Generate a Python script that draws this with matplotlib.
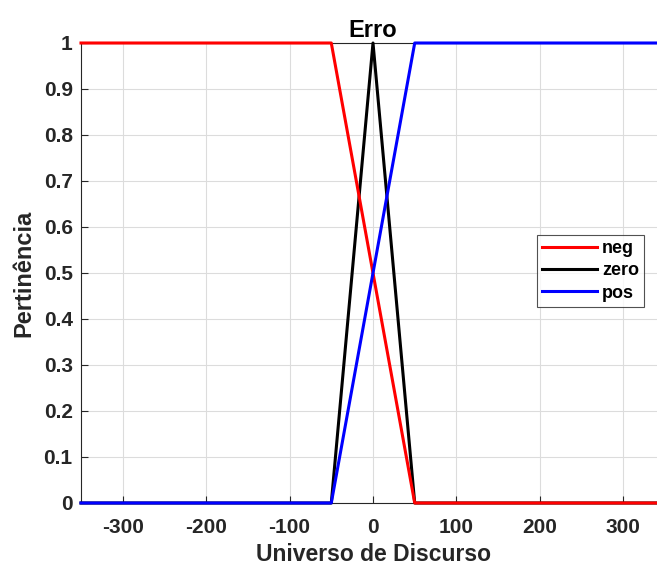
import matplotlib
matplotlib.use("Agg")
import matplotlib.pyplot as plt

plt.rcParams['font.family'] = ['Liberation Sans', 'DejaVu Sans']
plt.rcParams['font.weight'] = 'bold'

x_neg = [-350, -50, 50, 350]
y_neg = [1, 1, 0, 0]
x_zero = [-350, -50, 0, 50, 350]
y_zero = [0, 0, 1, 0, 0]
x_pos = [-350, -50, 50, 350]
y_pos = [0, 0, 1, 1]
xticks = [-300, -200, -100, 0, 100, 200, 300]
yticks = [0, 0.1, 0.2, 0.3, 0.4, 0.5, 0.6, 0.7, 0.8, 0.9, 1]

W, H = 657, 567
fig = plt.figure(figsize=(W/100, H/100), dpi=100)
left, right, top, bottom = 81, 665, 43, 503
ax = fig.add_axes([left/W, 1-bottom/H, (right-left)/W, (bottom-top)/H])

ax.plot(x_zero, y_zero, color='black', lw=2.2, label='zero', zorder=3, clip_on=False)
ax.plot(x_neg, y_neg, color='red', lw=2.2, label='neg', zorder=4, clip_on=False)
ax.plot(x_pos, y_pos, color='blue', lw=2.2, label='pos', zorder=4, clip_on=False)

ax.set_xlim(-350, 350)
ax.set_ylim(0, 1)
ax.set_xticks(xticks)
ax.set_xticklabels([str(v) for v in xticks])
ax.set_yticks(yticks)
ax.set_yticklabels(['0'] + [f'{v:g}' for v in yticks[1:-1]] + ['1'])
ax.grid(True, color='#dcdcdc', lw=0.8)
ax.set_axisbelow(True)
for s in ax.spines.values():
    s.set_color('#262626')
ax.tick_params(direction='in', length=5, colors='#262626', labelsize=15, width=0.8)
for lab in ax.get_xticklabels() + ax.get_yticklabels():
    lab.set_fontweight('bold')
    lab.set_color('#262626')
ax.tick_params(axis='x', pad=11)
ax.tick_params(axis='y', pad=6)

ax.set_title('Erro', fontsize=17, fontweight='bold', pad=4)
ax.set_xlabel('Universo de Discurso', fontsize=16.5, fontweight='bold', color='#262626', labelpad=4)
ax.set_ylabel('Pertinência', fontsize=17, fontweight='bold', color='#262626', labelpad=6)

h, l = ax.get_legend_handles_labels()
order = [1, 0, 2]
leg = ax.legend([h[i] for i in order], [l[i] for i in order],
                loc='upper left', bbox_to_anchor=((537-left)/(right-left), 1-(235-top)/(bottom-top)),
                fontsize=13, frameon=True, fancybox=False, handlelength=3.0,
                borderpad=0.3, labelspacing=0.28, handletextpad=0.3, borderaxespad=0)
leg.get_frame().set_edgecolor('#262626')
leg.get_frame().set_linewidth(0.8)
for t in leg.get_texts():
    t.set_fontweight('bold')

fig.savefig('out.png', dpi=100)
